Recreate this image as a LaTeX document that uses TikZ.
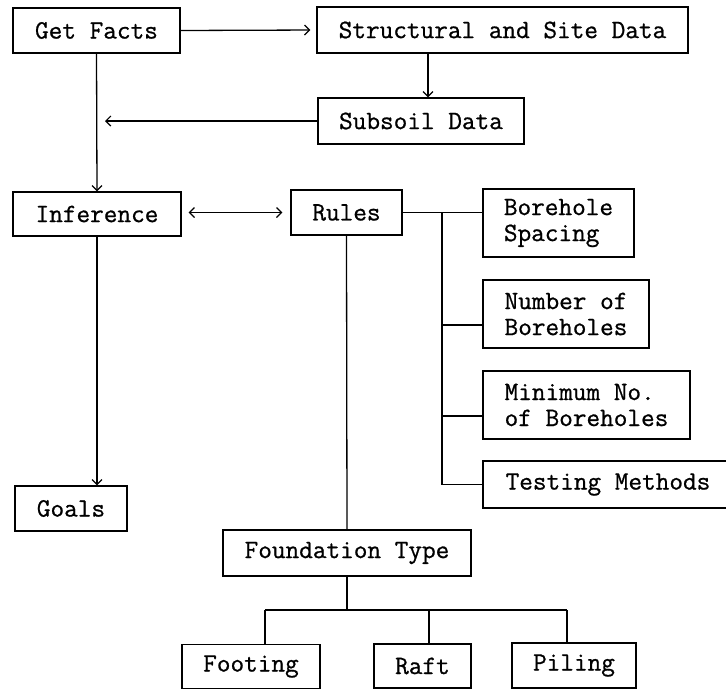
\documentclass[tikz,border=0pt]{standalone}
\usepackage{fontspec}
\usetikzlibrary{arrows.meta}
\newfontfamily\boxfont{Latin Modern Mono}[FakeBold=0.8]
\begin{document}
\begin{tikzpicture}[x=1pt,y=-1pt,
  box/.style={draw, line width=1.3pt, inner sep=0pt,
    font=\fontsize{26.5}{26}\selectfont\boxfont, align=left},
  link/.style={line width=1.3pt},
  arr/.style={link, -{Straight Barb[length=5pt,width=10pt,line width=1.2pt]}},
  darr/.style={link, {Straight Barb[length=5pt,width=10pt,line width=1.2pt]}-{Straight Barb[length=5pt,width=10pt,line width=1.2pt]}}
]
\useasboundingbox (0,0) rectangle (726,689);
\clip (0,0) rectangle (726,689);

% boxes
\node[box, minimum width=167pt, minimum height=45pt] (gf) at (96.5,30.5) {Get Facts};
\node[box, minimum width=371pt, minimum height=46pt] (sd) at (502.5,30) {Structural and Site Data};
\node[box, minimum width=206pt, minimum height=46pt] (ss) at (421,121) {Subsoil Data};
\node[box, minimum width=168pt, minimum height=44pt] (inf) at (97,214) {Inference};
\node[box, minimum width=111pt, minimum height=45pt] (ru) at (346.5,212.5) {Rules};
\node[box, minimum width=151pt, minimum height=68pt] (bs) at (558.5,223) {Borehole\\Spacing};
\node[box, minimum width=166pt, minimum height=68pt] (nb) at (566,314) {Number of\\Boreholes};
\node[box, minimum width=207pt, minimum height=68pt] (mn) at (586.5,405) {Minimum No.\\of Boreholes};
\node[box, minimum width=250pt, minimum height=47pt] (tm) at (608,484.5) {Testing Methods};
\node[box, minimum width=112pt, minimum height=45pt] (go) at (71,508.5) {Goals};
\node[box, minimum width=248pt, minimum height=46pt] (ft) at (347,553) {Foundation Type};
\node[box, minimum width=138pt, minimum height=44pt] (fo) at (251,666.5) {Footing};
\node[box, minimum width=97pt, minimum height=44pt] (ra) at (422.5,666) {Raft};
\node[box, minimum width=124pt, minimum height=45pt] (pi) at (574,665.5) {Piling};

% helper coordinates
\coordinate (xA) at (428,0);
\coordinate (tipL) at (105,121);
\coordinate (trunk) at (442,212.5);
\coordinate (bus) at (347,610);
\coordinate (dF) at (265,610);
\coordinate (dR) at (429,610);
\coordinate (dP) at (567,610);

% fact gathering
\draw[arr, shorten >=6pt] (gf.east) -- (sd.west);
\draw[arr] (sd.south -| xA) -- (ss.north -| xA);
\draw[arr] (ss.west) -- (tipL);
\draw[arr] (gf.south) -- (inf.north);

% inference and rules
\draw[darr, shorten <=7pt, shorten >=8pt] (ru.west -| inf.east) -- (ru.west);
\draw[arr] (inf.south) -- (inf.south |- go.north);

% rule branches
\draw[link] (ru.east) -- (ru.east -| bs.west);
\draw[link] (trunk) |- (tm.west);
\draw[link] ([yshift=-11pt]nb.west) -- ([yshift=-11pt]nb.west -| trunk);
\draw[link] ([yshift=-11pt]mn.west) -- ([yshift=-11pt]mn.west -| trunk);

% foundation types
\draw[link] (ru.south) -- (ft.north);
\draw[link] (ft.south) -- (bus);
\draw[link] (dF) -- (dP);
\draw[link] (dF) -- (dF |- fo.north);
\draw[link] (dR) -- (dR |- ra.north);
\draw[link] (dP) -- (dP |- pi.north);
\end{tikzpicture}
\end{document}
